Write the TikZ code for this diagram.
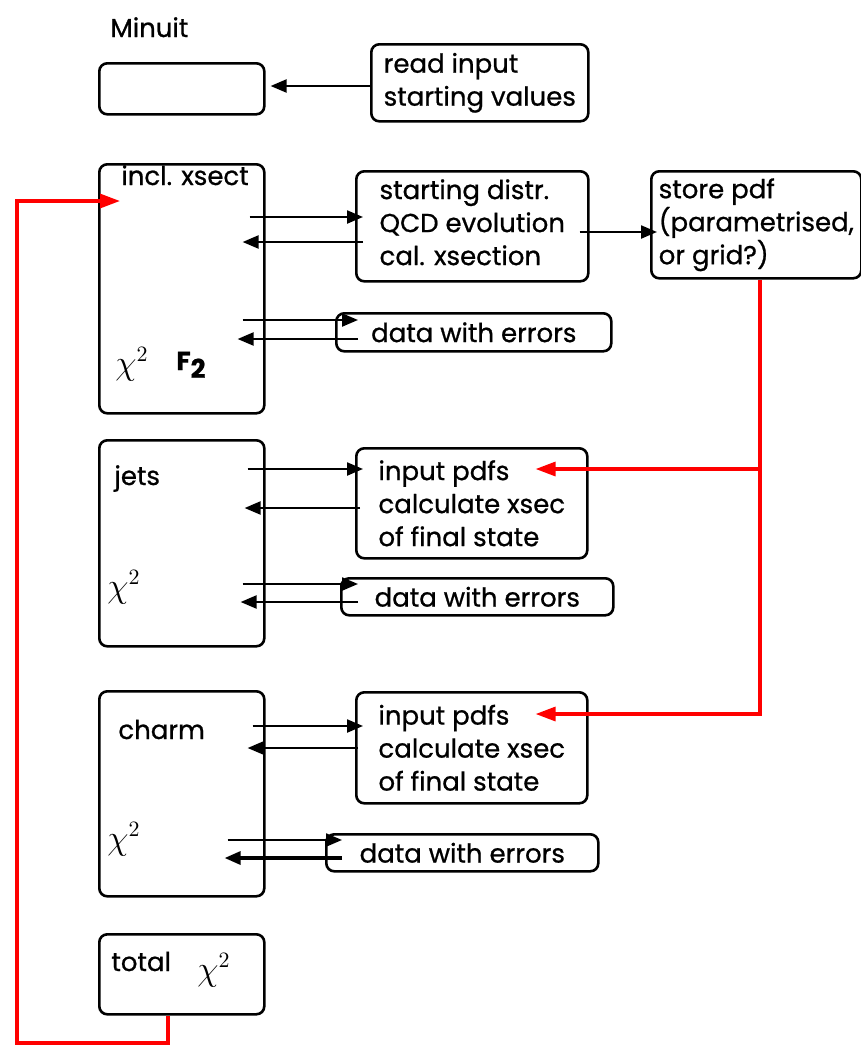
\documentclass[tikz,border=0pt]{standalone}
\usepackage{fontspec}
\setmainfont{Poppins}[FakeBold=0.8]
\usetikzlibrary{arrows.meta,positioning,calc}
\definecolor{loopred}{HTML}{FF0000}

\begin{document}
\begin{tikzpicture}[x=0.5pt,y=-0.5pt,
      box/.style={draw=black,line width=1.3pt,rounded corners=4pt,inner sep=0pt},
      stage/.style={box,anchor=north west,minimum width=82.5pt},
      task/.style={box,anchor=north west,align=left,font=\fontsize{13}{16.5}\selectfont},
      lbl/.style={anchor=base west,inner sep=0pt,font=\fontsize{13}{15}\selectfont},
      chi/.style={anchor=base west,inner sep=0pt,font=\fontsize{16}{17}\selectfont},
      arr/.style={line width=1.1pt,-{Triangle[length=8pt,width=6.5pt]}},
      feed/.style={draw=loopred,line width=1.6pt},
      feedarr/.style={feed,-{Triangle[length=10pt,width=7pt]}}
    ]
    \useasboundingbox (0,0) rectangle (861,1046);

    \node[lbl] (minuit) at (110,37) {Minuit};
    \node[stage,minimum height=25.5pt] (fit) at (98,62) {};
    \node[task,minimum width=108.5pt,minimum height=38.5pt] (read) at (370,43) {read input\\starting values};

    \node[stage,minimum height=124.5pt] (incl) at (98,163) {};
    \node[lbl] (incltxt) at (121,185) {incl. xsect};
    \node[chi] (inclchi) at (115,374) {$\chi^2$};
    \node[lbl,font=\fontsize{13}{15}\selectfont\bfseries] (f2) at (176,370) {F\raisebox{-4pt}{2}};
    \node[task,minimum width=116pt,minimum height=55pt] (start) at (355,170) {starting distr.\\QCD evolution\\cal. xsection\vspace{4pt}};
    \node[task,minimum width=105pt,minimum height=53.5pt] (store) at (650,170) {store pdf\\(parametrised,\\or grid?)};
    \node[task,minimum width=137.5pt,minimum height=19pt] (data1) at (335,312) {data with errors};

    \node[stage,minimum height=103pt] (jets) at (98,439) {};
    \node[lbl] (jetstxt) at (114,485) {jets};
    \node[chi] (jetschi) at (107,597) {$\chi^2$};
    \node[task,minimum width=115.5pt,minimum height=55pt] (in1) at (355,447) {input pdfs\\calculate xsec\\of final state};
    \node[task,minimum width=136pt,minimum height=18.5pt] (data2) at (340,577) {data with errors};

    \node[stage,minimum height=102.5pt] (charm) at (98,690) {};
    \node[lbl] (charmtxt) at (118,739) {charm};
    \node[chi] (charmchi) at (107,849) {$\chi^2$};
    \node[task,minimum width=115.5pt,minimum height=55.5pt] (in2) at (355,691) {input pdfs\\calculate xsec\\of final state};
    \node[task,minimum width=136pt,minimum height=18.5pt] (data3) at (325,833) {data with errors};

    \node[stage,minimum height=40pt] (total) at (98,933) {};
    \node[lbl] (totaltxt) at (111,971) {total};
    \node[chi] (totalchi) at (197,980) {$\chi^2$};

    \draw[arr] (read.west|-0,86) -- ($(fit.east|-0,86)+(5,0)$);

    \draw[arr] ($(incl.east|-0,217)+(-16,0)$) -- ($(start.west|-0,217)+(8,0)$);
    \draw[arr] ($(start.west|-0,242)+(8,0)$) -- ($(incl.east|-0,242)+(-23,0)$);
    \draw[arr] ($(start.east|-0,232)+(-10,0)$) -- ($(store.west|-0,232)+(7,0)$);
    \draw[arr] ($(incl.east|-0,320)+(-23,0)$) -- ($(data1.west|-0,320)+(23,0)$);
    \draw[arr] ($(data1.west|-0,339)+(23,0)$) -- ($(incl.east|-0,339)+(-28,0)$);

    \draw[arr] ($(jets.east|-0,469)+(-18,0)$) -- ($(in1.west|-0,469)+(8,0)$);
    \draw[arr] ($(in1.west|-0,508)+(5,0)$) -- ($(jets.east|-0,508)+(-21,0)$);
    \draw[arr] ($(jets.east|-0,584)+(-23,0)$) -- ($(data2.west|-0,584)+(18,0)$);
    \draw[arr] ($(data2.west|-0,602)+(18,0)$) -- ($(jets.east|-0,602)+(-25,0)$);

    \draw[arr] ($(charm.east|-0,726)+(-13,0)$) -- ($(in2.west|-0,726)+(8,0)$);
    \draw[arr] ($(in2.west|-0,748)+(3,0)$) -- ($(charm.east|-0,748)+(-18,0)$);
    \draw[arr] ($(charm.east|-0,840)+(-38,0)$) -- ($(data3.west|-0,840)+(17,0)$);
    \draw[arr,line width=1.6pt] ($(data3.west|-0,858)+(17,0)$) -- ($(charm.east|-0,858)+(-41,0)$);

    \draw[feedarr] (store.south-|760,0) -- (760,714) -- ($(in2.east|-0,714)+(-53,0)$);
    \draw[feedarr] (760,469) -- ($(in1.east|-0,469)+(-53,0)$);
    \draw[feedarr] (total.south-|168,0) -- (168,1043) -- (17,1043) -- (17,201) -- ($(incl.west|-0,201)+(22,0)$);
  \end{tikzpicture}
\end{document}
